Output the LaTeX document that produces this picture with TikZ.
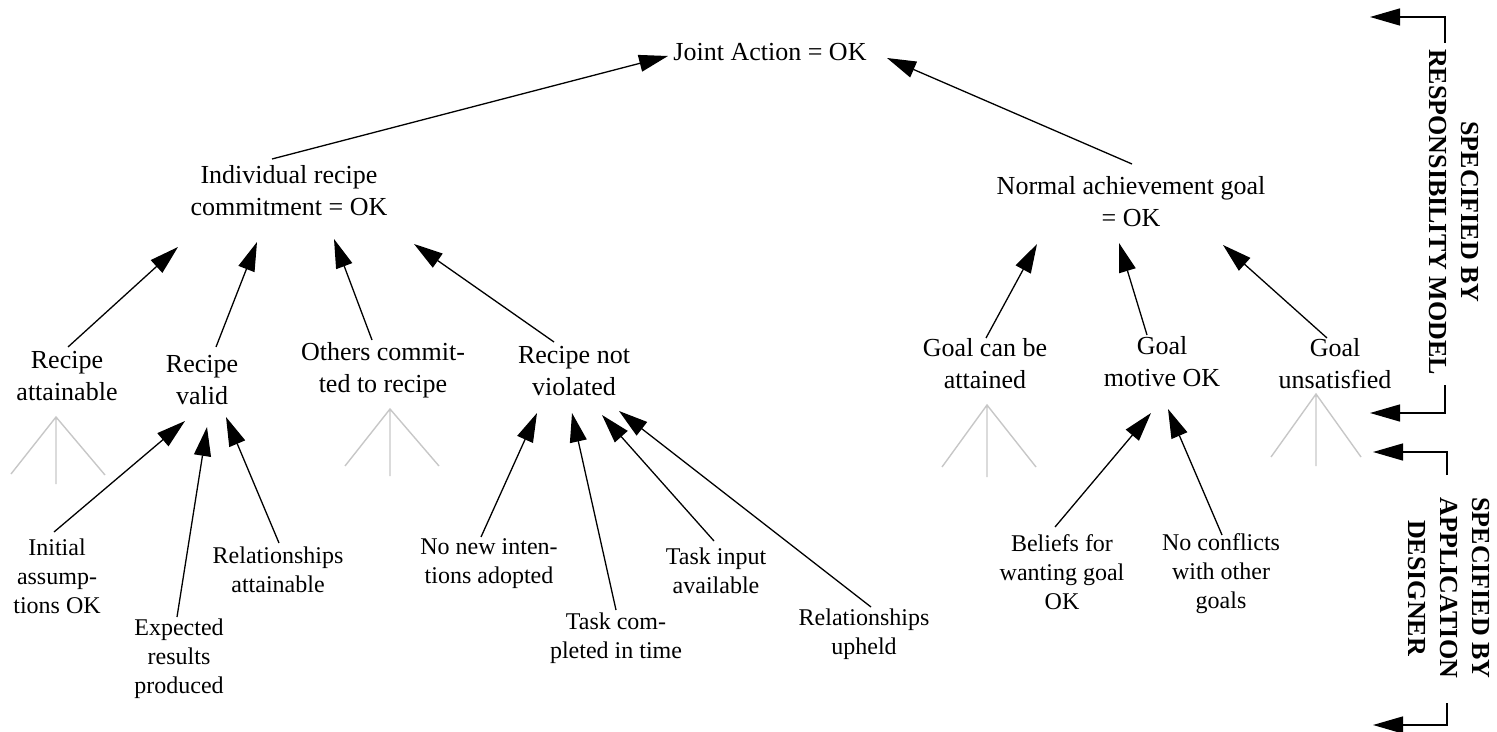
\documentclass[tikz,border=0pt]{standalone}
\usepackage{fontspec}
\setmainfont{Liberation Serif}
\usetikzlibrary{arrows.meta,calc}
\newcommand\lblfont{\fontsize{13pt}{16pt}\selectfont}
\newcommand\subfont{\fontsize{12pt}{14.5pt}\selectfont}
\newcommand\tagfont{\fontsize{13pt}{16pt}\selectfont\bfseries}
% invisible rules that fix the height of the first line and the depth of the last one
\newcommand\hiStrut{\rule{0pt}{\dimexpr0.7\baselineskip+3pt\relax}}
\newcommand\loStrut{\rule[\dimexpr-0.3\baselineskip+3pt\relax]{0pt}{\dimexpr0.3\baselineskip-3pt\relax}}
\begin{document}
\begin{tikzpicture}[x=0.5pt,y=-0.5pt,
  goal/.style={align=center, font=\lblfont, inner sep=0pt,
    execute at begin node=\hiStrut, execute at end node=\loStrut},
  sub/.style={goal, font=\subfont},
  tag/.style={goal, font=\tagfont, rotate=-90},
  arr/.style={-{Triangle[length=14.5pt,width=8.5pt]}, line width=0.65pt},
  stub/.style={draw=black!22, line width=0.7pt},
  bracket/.style={-{Triangle[length=15pt,width=8.5pt]}, line width=0.7pt}
]
\useasboundingbox (0,0) rectangle (1497,732);

% goal tree
\node[goal] (joint) at (770,48) {Joint Action = OK};
\node[goal] (ind)   at (289,192) {Individual recipe\\commitment = OK};
\node[goal] (norm)  at (1131,203) {Normal achievement goal\\= OK};

\node[goal] (ra)  at (67,378)  {Recipe\\attainable};
\node[goal] (rv)  at (202,382) {Recipe\\valid};
\node[goal] (oc)  at (383,370) {Others commit-\\ted to recipe};
\node[goal] (rnv) at (574,373) {Recipe not\\violated};
\node[goal] (gca) at (985,365) {Goal can be\\attained};
\node[goal] (gm)  at (1162,363) {Goal\\motive OK};
\node[goal] (gu)  at (1335,365) {Goal\\unsatisfied};

\node[sub] (ia)  at (57,578)  {Initial\\assump-\\tions OK};
\node[sub] (er)  at (179,659) {Expected\\results\\produced};
\node[sub] (rla) at (278,571) {Relationships\\attainable};
\node[sub] (nn)  at (489,564) {No new inten-\\tions adopted};
\node[sub] (tc)  at (616,638) {Task com-\\pleted in time};
\node[sub] (ti)  at (716,572) {Task input\\available};
\node[sub] (ru)  at (864,634) {Relationships\\upheld};
\node[sub] (bf)  at (1062,573) {Beliefs for\\wanting goal\\OK};
\node[sub] (nc)  at (1221,574) {No conflicts\\with other\\goals};

% support links
\draw[arr] ([shift={(-17,-33)}]ind.center) -- ([shift={(-102,8)}]joint.center);
\draw[arr] ([shift={(1,-39)}]norm.center) -- ([shift={(117,10)}]joint.center);

\draw[arr] ([shift={(1,-31)}]ra.center)   -- ([shift={(-111,55)}]ind.center);
\draw[arr] ([shift={(14,-35)}]rv.center)  -- ([shift={(-32,50)}]ind.center);
\draw[arr] ([shift={(-11,-30)}]oc.center) -- ([shift={(45,47)}]ind.center);
\draw[arr] ([shift={(-20,-31)}]rnv.center) -- ([shift={(125,52)}]ind.center);

\draw[arr] ([shift={(1,-27)}]gca.center) -- ([shift={(-94,41)}]norm.center);
\draw[arr] ([shift={(-15,-28)}]gm.center) -- ([shift={(-12,40)}]norm.center);
\draw[arr] ([shift={(-8,-27)}]gu.center)  -- ([shift={(92,42)}]norm.center);

\draw[arr] ([shift={(-3,-46)}]ia.center)  -- ([shift={(-17,39)}]rv.center);
\draw[arr] ([shift={(-2,-42)}]er.center)  -- ([shift={(5,45)}]rv.center);
\draw[arr] ([shift={(1,-28)}]rla.center)  -- ([shift={(24,35)}]rv.center);

\draw[arr] ([shift={(-8,-27)}]nn.center)  -- ([shift={(-37,40)}]rnv.center);
\draw[arr] ([shift={(0,-28)}]tc.center)   -- ([shift={(-2,40)}]rnv.center);
\draw[arr] ([shift={(-2,-31)}]ti.center)  -- ([shift={(28,42)}]rnv.center);
\draw[arr] ([shift={(7,-27)}]ru.center)   -- ([shift={(45,38)}]rnv.center);

\draw[arr] ([shift={(-7,-46)}]bf.center)  -- ([shift={(-11,50)}]gm.center);
\draw[arr] ([shift={(1,-39)}]nc.center)   -- ([shift={(6,46)}]gm.center);

% unexpanded sub-trees
\draw[stub] (11,474) -- (56,417) -- (105,475) (56,417) -- (56,484);
\draw[stub] (345,466) -- (390,409) -- (439,466) (390,409) -- (390,476);
\draw[stub] (942,467) -- (987,405) -- (1036,467) (987,405) -- (987,477);
\draw[stub] (1271,457) -- (1316,394) -- (1361,457) (1316,394) -- (1316,466);

% responsibility brackets
\node[tag] (t1) at (1452,212) {SPECIFIED BY\\RESPONSIBILITY MODEL};
\coordinate (t1a) at (1445,43);
\coordinate (t1c) at (1445,17);
\coordinate (t1p) at (1370,17);
\coordinate (t1b) at (1445,385);
\coordinate (t1d) at (1445,413);
\coordinate (t1q) at (1370,413);
\draw[bracket] (t1a) -- (t1c) -- (t1p);
\draw[bracket] (t1b) -- (t1d) -- (t1q);

\node[tag] (t2) at (1447,588) {SPECIFIED BY\\APPLICATION\\DESIGNER};
\coordinate (t2a) at (1447,475);
\coordinate (t2c) at (1447,452);
\coordinate (t2p) at (1373,452);
\coordinate (t2b) at (1447,703);
\coordinate (t2d) at (1447,725);
\coordinate (t2q) at (1373,725);
\draw[bracket] (t2a) -- (t2c) -- (t2p);
\draw[bracket] (t2b) -- (t2d) -- (t2q);
\end{tikzpicture}
\end{document}
